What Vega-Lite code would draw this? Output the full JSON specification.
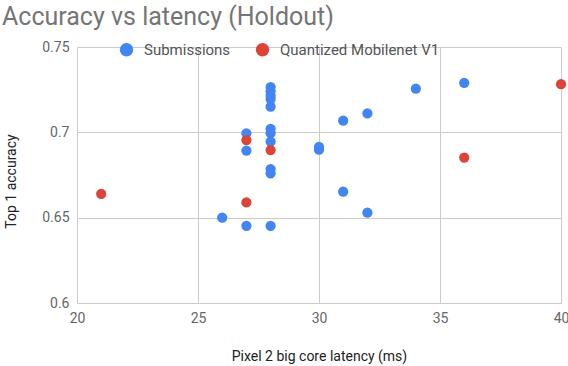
{
  "$schema": "https://vega.github.io/schema/vega-lite/v6.json",
  "autosize": "none",
  "width": 484,
  "height": 256,
  "padding": {"left": 77, "top": 47, "right": 7, "bottom": 63},
  "background": "white",
  "config": {
    "font": "Roboto",
    "view": {"stroke": null}
  },
  "title": {
    "text": "Accuracy vs latency (Holdout)",
    "anchor": "start",
    "frame": "group",
    "fontSize": 25,
    "fontWeight": "normal",
    "color": "#757575",
    "dx": -75,
    "offset": 10
  },
  "data": {
    "values": [
      {"latency": 26, "accuracy": 0.650, "series": "Submissions"},
      {"latency": 27, "accuracy": 0.6994, "series": "Submissions"},
      {"latency": 27, "accuracy": 0.6893, "series": "Submissions"},
      {"latency": 27, "accuracy": 0.6452, "series": "Submissions"},
      {"latency": 28, "accuracy": 0.7265, "series": "Submissions"},
      {"latency": 28, "accuracy": 0.7240, "series": "Submissions"},
      {"latency": 28, "accuracy": 0.7215, "series": "Submissions"},
      {"latency": 28, "accuracy": 0.7195, "series": "Submissions"},
      {"latency": 28, "accuracy": 0.7150, "series": "Submissions"},
      {"latency": 28, "accuracy": 0.7020, "series": "Submissions"},
      {"latency": 28, "accuracy": 0.6995, "series": "Submissions"},
      {"latency": 28, "accuracy": 0.6945, "series": "Submissions"},
      {"latency": 28, "accuracy": 0.6785, "series": "Submissions"},
      {"latency": 28, "accuracy": 0.6760, "series": "Submissions"},
      {"latency": 28, "accuracy": 0.6452, "series": "Submissions"},
      {"latency": 30, "accuracy": 0.6915, "series": "Submissions"},
      {"latency": 30, "accuracy": 0.6898, "series": "Submissions"},
      {"latency": 31, "accuracy": 0.7068, "series": "Submissions"},
      {"latency": 31, "accuracy": 0.6652, "series": "Submissions"},
      {"latency": 32, "accuracy": 0.7111, "series": "Submissions"},
      {"latency": 32, "accuracy": 0.6529, "series": "Submissions"},
      {"latency": 34, "accuracy": 0.7256, "series": "Submissions"},
      {"latency": 36, "accuracy": 0.7290, "series": "Submissions"},
      {"latency": 21, "accuracy": 0.6639, "series": "Quantized Mobilenet V1"},
      {"latency": 27, "accuracy": 0.6955, "series": "Quantized Mobilenet V1"},
      {"latency": 27, "accuracy": 0.6589, "series": "Quantized Mobilenet V1"},
      {"latency": 28, "accuracy": 0.6896, "series": "Quantized Mobilenet V1"},
      {"latency": 36, "accuracy": 0.6852, "series": "Quantized Mobilenet V1"},
      {"latency": 40, "accuracy": 0.7282, "series": "Quantized Mobilenet V1"}
    ]
  },
  "mark": {"type": "circle", "size": 105, "opacity": 1},
  "encoding": {
    "x": {
      "field": "latency",
      "type": "quantitative",
      "scale": {"domain": [20, 40], "nice": false, "zero": false},
      "axis": {
        "title": "Pixel 2 big core latency (ms)",
        "values": [20, 25, 30, 35, 40],
        "grid": true,
        "gridColor": "#cccccc",
        "domain": true,
        "domainColor": "#cccccc",
        "ticks": false,
        "labelFontSize": 14,
        "labelColor": "#666666",
        "labelPadding": 8,
        "labelFlush": false,
        "titleFontSize": 14,
        "titleFontWeight": "normal",
        "titleColor": "#222222",
        "titleY": 46
      }
    },
    "y": {
      "field": "accuracy",
      "type": "quantitative",
      "scale": {"domain": [0.6, 0.75], "nice": false, "zero": false},
      "axis": {
        "title": "Top 1 accuracy",
        "values": [0.6, 0.65, 0.7, 0.75],
        "format": "~g",
        "grid": true,
        "gridColor": "#cccccc",
        "domain": false,
        "ticks": false,
        "labelFontSize": 14,
        "labelColor": "#666666",
        "labelPadding": 8,
        "titleFontSize": 14,
        "titleFontWeight": "normal",
        "titleColor": "#222222",
        "titleX": -59,
        "titleY": 134
      }
    },
    "color": {
      "field": "series",
      "type": "nominal",
      "scale": {
        "domain": ["Submissions", "Quantized Mobilenet V1"],
        "range": ["#4285F4", "#DB4437"]
      },
      "legend": {
        "title": null,
        "orient": "none",
        "direction": "horizontal",
        "legendX": 42,
        "legendY": -5,
        "symbolType": "circle",
        "symbolSize": 180,
        "symbolOpacity": 1,
        "labelFontSize": 15,
        "labelColor": "#555555",
        "columnPadding": 24,
        "labelOffset": 10
      }
    }
  }
}
